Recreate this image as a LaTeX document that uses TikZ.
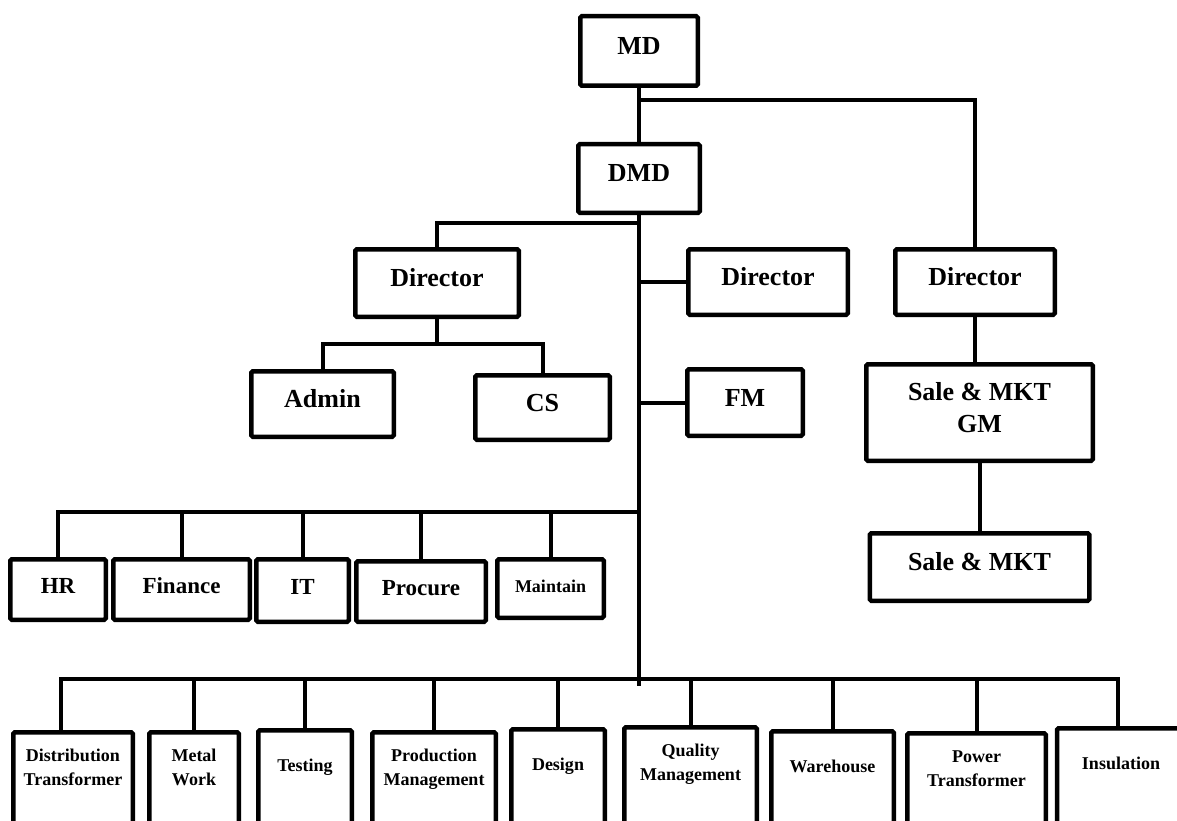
\documentclass[tikz,border=0pt]{standalone}
\usepackage{fontspec}
\setmainfont{Liberation Serif}
\usetikzlibrary{positioning}

\begin{document}
\begin{tikzpicture}[x=1pt, y=-1pt,
		box/.style={draw, line width=4.5pt, rounded corners=1.5pt, inner sep=0pt, align=center,
			font=\fontsize{26}{32}\selectfont\bfseries, text height=18pt, text depth=11pt},
		unit/.style={box, font=\fontsize{23}{28}\selectfont\bfseries, text height=16pt, text depth=9pt},
		dept/.style={box, anchor=north, minimum height=116pt,
			font=\fontsize{18}{24}\selectfont\bfseries, text height=13pt, text depth=47.5pt},
		dept2/.style={dept, text height=37pt},
		link/.style={line width=4pt}]
		
		\useasboundingbox (0,0) rectangle (1177,821);
		\clip (0,0) rectangle (1177,821);
		
		\node[box, minimum width=117.5pt, minimum height=69.5pt]                  (md)    at (639,51)      {MD};
		\node[box, minimum width=121.5pt, minimum height=68.5pt]                  (dmd)   at (639,178.5)   {DMD};
		\node[box, minimum width=163.5pt, minimum height=67.5pt]                  (dirL)  at (437,283)     {Director};
		\node[box, minimum width=159.5pt, minimum height=65.5pt]                  (dirM)  at (768,282)     {Director};
		\node[box, minimum width=159.5pt, minimum height=65.5pt]                  (dirR)  at (975,282)     {Director};
		\node[box, minimum width=142.5pt, minimum height=65.5pt]                  (admin) at (322.5,404)   {Admin};
		\node[box, minimum width=134.5pt, minimum height=64.5pt]                  (cs)    at (542.5,407.5) {CS};
		\node[box, minimum width=115.5pt, minimum height=66.5pt]                  (fm)    at (745,402.5)   {FM};
		\node[box, minimum width=226.5pt, minimum height=96.5pt,
			text height=50pt, text depth=10pt]                                     (gm)    at (979.5,412.5) {Sale \& MKT\\GM};
		\node[box, minimum width=219.5pt, minimum height=67.5pt]                  (sm)    at (979.5,567)   {Sale \& MKT};
		
		\node[unit, minimum width=95.5pt,  minimum height=60.5pt] (hr)    at (58,589.5)    {HR};
		\node[unit, minimum width=136.5pt, minimum height=60.5pt] (fin)   at (181.5,589.5) {Finance};
		\node[unit, minimum width=92.5pt,  minimum height=62.5pt] (it)    at (302.5,590.5) {IT};
		\node[unit, minimum width=129.5pt, minimum height=60.5pt] (proc)  at (421,591.5)   {Procure};
		\node[unit, minimum width=106.5pt, minimum height=58.5pt,
			font=\fontsize{18}{22}\selectfont\bfseries]              (maint) at (550.5,588.5) {Maintain};
		
		\node[dept2, minimum width=119.5pt] (dist)   at (73,730)     {Distribution\\Transformer};
		\node[dept2, minimum width=89.5pt]  (metal)  at (194,730)    {Metal\\Work};
		\node[dept,  minimum width=93.5pt]  (test)   at (305,728)    {Testing};
		\node[dept2, minimum width=123.5pt] (prod)   at (434,730)    {Production\\Management};
		\node[dept,  minimum width=93.5pt]  (design) at (558,727)    {Design};
		\node[dept2, minimum width=132.5pt] (qual)   at (690.5,725)  {Quality\\Management};
		\node[dept,  minimum width=122.5pt] (ware)   at (832.5,729)  {Warehouse};
		\node[dept2, minimum width=138.5pt] (power)  at (976.5,731)  {Power\\Transformer};
		\node[dept,  minimum width=128pt]   (insul)  at (1121,726)   {Insulation};
		
		\coordinate (jmd)    at (639,100);
		\coordinate (jdmd)   at (639,223);
		\coordinate (jdir)   at (437,344);
		\coordinate (jstaff) at (639,512);
		\coordinate (jdept)  at (639,679);
		\coordinate (trunk)  at (639,686);
		
		
		\draw[link] (md)    -- (dmd);
		\draw[link] (dmd)   -- (trunk);
		\draw[link] (jmd)   -| (dirR);
		\draw[link] (jdmd)  -| (dirL);
		\draw[link] (dirM)  -- (dirM -| dmd);
		\draw[link] (fm)    -- (fm -| dmd);
		\draw[link] (dirL)  -- (jdir);
		\draw[link] (admin) |- (jdir) -| (cs);
		\draw[link] (dirR)  -- (dirR |- gm.north);
		\draw[link] (gm)    -- (sm);
		
		\draw[link] (hr)    |- (jstaff);
		\draw[link] (fin)   -- (fin |- jstaff);
		\draw[link] (it)    -- (it |- jstaff);
		\draw[link] (proc)  -- (proc |- jstaff);
		\draw[link] (maint) -- (maint |- jstaff);
		
		\draw[link] ([xshift=-12pt]dist.north) |- (jdept) -| ([xshift=-3pt]insul.north);
		\draw[link] (metal)  -- (metal |- jdept);
		\draw[link] (test)   -- (test |- jdept);
		\draw[link] (prod)   -- (prod |- jdept);
		\draw[link] (design) -- (design |- jdept);
		\draw[link] (qual)   -- (qual |- jdept);
		\draw[link] (ware)   -- (ware |- jdept);
		\draw[link] (power)  -- (power |- jdept);
	\end{tikzpicture}
\end{document}
